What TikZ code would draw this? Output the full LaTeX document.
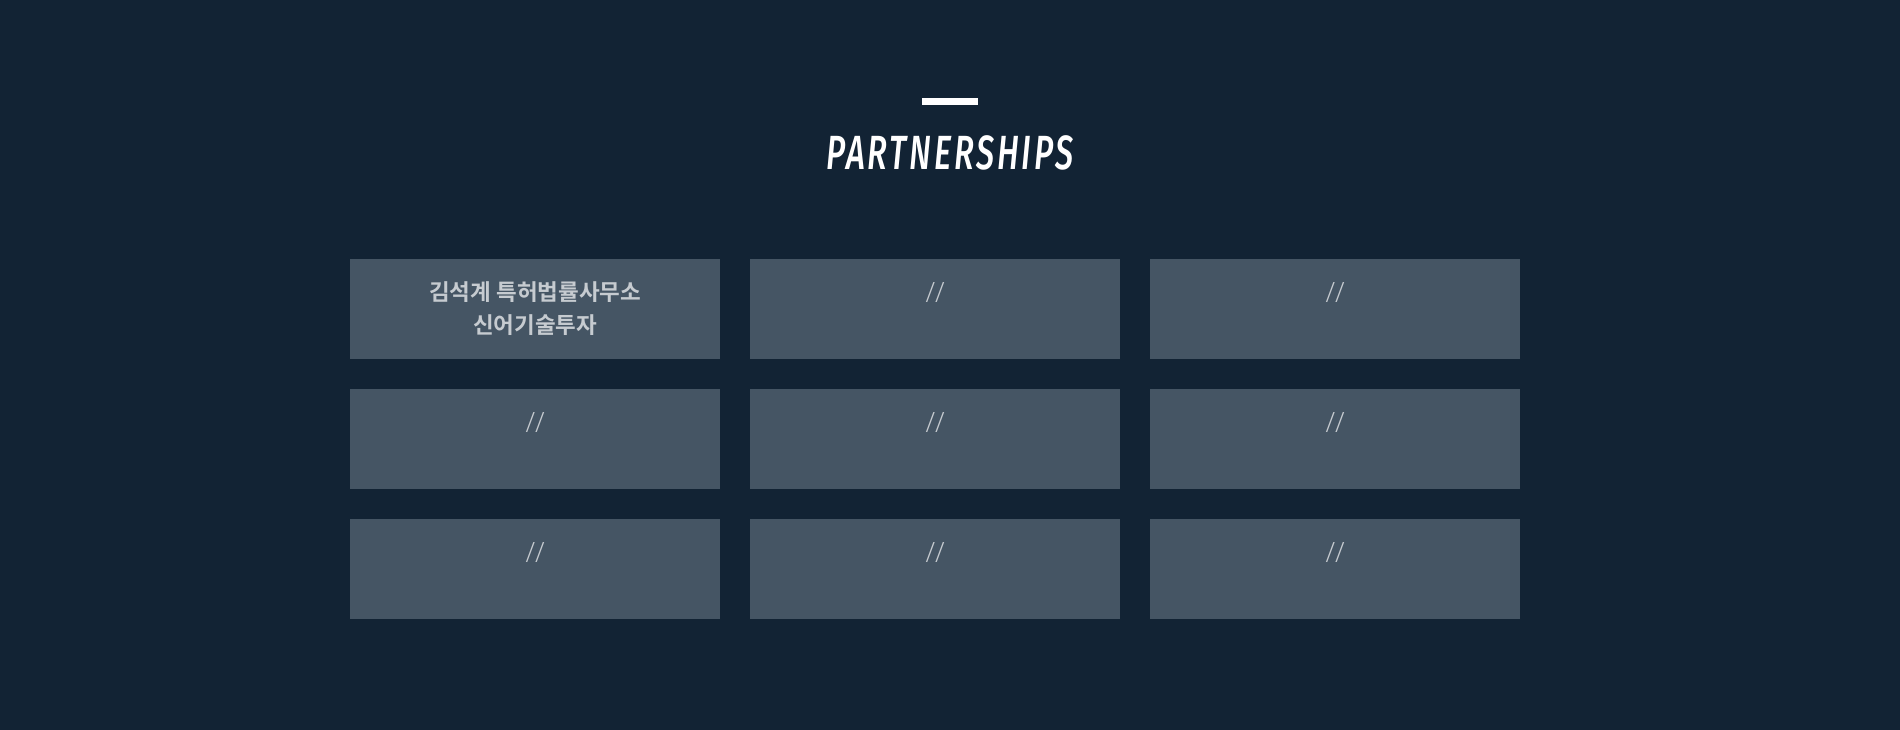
\documentclass[tikz,border=0pt]{standalone}
\usepackage{fontspec}
\setmainfont{Open Sans}
\newfontfamily\titlefont[FakeStretch=0.68,LetterSpace=6]{Fira Sans Medium}
\newfontfamily\slashfont{Open Sans Light}
\newfontfamily\krfont{Noto Sans CJK KR Bold}
\definecolor{bgc}{HTML}{122334}
\definecolor{boxc}{HTML}{455564}
\definecolor{txtc}{HTML}{C6CBD0}
\tikzset{
  partner/.style={fill=boxc, draw=none, minimum width=370pt, minimum height=100pt, inner sep=0pt, anchor=north west},
  slashlbl/.style={text=txtc, font=\slashfont\fontsize{28}{32}\selectfont, inner sep=0pt},
  krlbl/.style={text=txtc, font=\krfont\fontsize{22.5}{33.5}\selectfont, align=center, inner sep=0pt},
}
\begin{document}
\begin{tikzpicture}[x=1pt,y=-1pt]
\fill[bgc] (0,0) rectangle (1900,730);
\useasboundingbox (0,0) rectangle (1900,730);
\fill[white] (922,98) rectangle (978,105);
\node[text=white, font=\titlefont\itshape\fontsize{48}{52}\selectfont, inner sep=0pt, anchor=base] (title) at (950,170) {PARTNERSHIPS};
\foreach \r/\y in {1/259,2/389,3/519}{
  \foreach \c/\x in {1/350,2/750,3/1150}{
    \node[partner] (b\r\c) at (\x,\y) {};
  }
}
\node[krlbl, anchor=north] (k1) at ([yshift=-22pt]b11.north) {김석계 특허법률사무소\\신어기술투자};
\foreach \n in {12,13,21,22,23,31,32,33}{
  \node[slashlbl] (s\n) at ([yshift=-34pt]b\n.north) {//};
}
\end{tikzpicture}
\end{document}
